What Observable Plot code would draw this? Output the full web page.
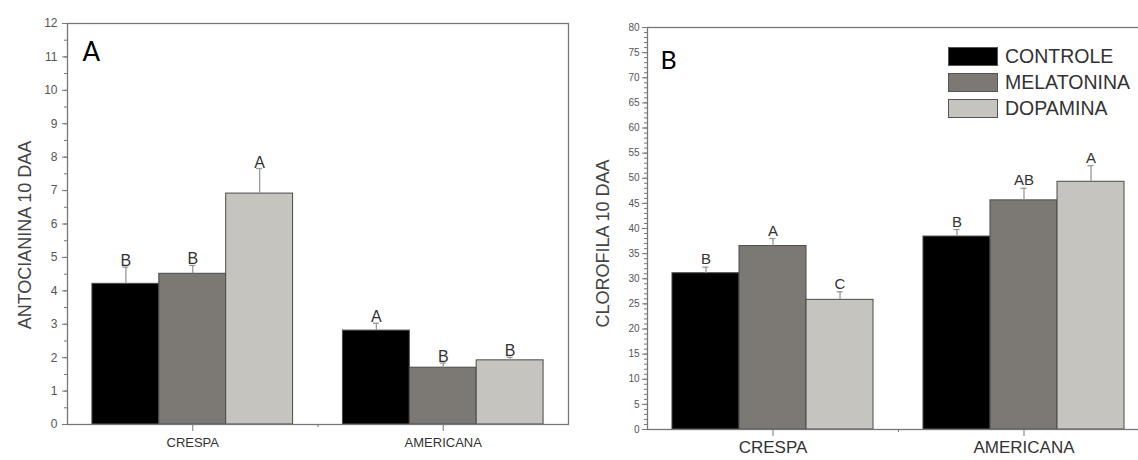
<!DOCTYPE html>
<html>
<head>
<meta charset="utf-8">
<script src="https://cdn.jsdelivr.net/npm/d3@7"></script>
<script src="https://cdn.jsdelivr.net/npm/@observablehq/plot@0.6"></script>
<style>
  body { margin: 0; background: #fff; }
  #wrap { position: relative; width: 1138px; height: 460px; overflow: hidden; font-family: "Liberation Sans", Arial, sans-serif; }
  #wrap svg { position: absolute; top: 0; }
  .legend { position: absolute; left: 948px; top: 43px; }
  .legend .row { display: flex; align-items: center; height: 26px; }
  .legend .sw { width: 48px; height: 17px; border: 1px solid #555; margin-right: 7px; }
  .legend .lb { font-size: 19.5px; color: #333; line-height: 19px; white-space: nowrap; }
</style>
</head>
<body>
<div id="wrap"></div>
<script>
// ---- data ----
const groups = ["CRESPA", "AMERICANA"];
const treatments = ["CONTROLE", "MELATONINA", "DOPAMINA"];
const treatmentColors = ["#000000", "#7c7975", "#c6c4be"];

// values listed group by group: CRESPA (controle, melatonina, dopamina), AMERICANA (...)
const antoValues  = [4.21, 4.51, 6.91, 2.81, 1.70, 1.92];
const antoErrors  = [0.50, 0.25, 0.75, 0.22, 0.14, 0.09];
const antoLetters = ["B", "B", "A", "A", "B", "B"];

const cloroValues  = [31.1, 36.5, 25.8, 38.4, 45.6, 49.3];
const cloroErrors  = [1.2, 1.5, 1.6, 1.4, 2.4, 3.2];
const cloroLetters = ["B", "A", "C", "B", "AB", "A"];

// ---- build rows ----
const barW = 0.267;
function rows(values, errors, letters) {
  const out = [];
  groups.forEach((g, gi) => treatments.forEach((t, ti) => {
    const k = gi * treatments.length + ti;
    const c = gi + 1 + (ti - 1) * barW;
    out.push({group: g, treatment: t, center: c, x1: c - barW / 2, x2: c + barW / 2,
      value: values[k], top: values[k] + errors[k], letter: letters[k], color: treatmentColors[ti]});
  }));
  return out;
}

function panel(o) {
  const data = rows(o.values, o.errors, o.letters);
  const cap = 0.012;
  return Plot.plot({
    width: o.width, height: 460,
    marginLeft: o.marginLeft, marginRight: o.marginRight,
    marginTop: o.marginTop, marginBottom: o.marginBottom,
    x: {domain: [0.5, 2.5]},
    y: {domain: [0, o.yMax]},
    style: {fontFamily: "Liberation Sans, Arial, sans-serif", color: "#666", background: "transparent", overflow: "hidden"},
    marks: [
      Plot.rectY(data, {x1: "x1", x2: "x2", y: "value", fill: "color", stroke: "#4a4a4a", strokeWidth: 1}),
      Plot.ruleX(data, {x: "center", y1: "value", y2: "top", stroke: "#999", strokeWidth: 1.3}),
      Plot.ruleY(data, {y: "top", x1: d => d.center - cap, x2: d => d.center + cap, stroke: "#999", strokeWidth: 1.3}),
      Plot.text(data, {x: "center", y: "top", text: "letter", lineAnchor: "bottom", dy: o.letterDy,
        fontSize: o.letterSize, fill: "#333"}),
      Plot.frame({stroke: "#777", strokeWidth: 1.3}),
      Plot.axisY({ticks: d3.range(0, o.yMax + 0.001, o.yStep), tickSize: 5, tickPadding: o.tickPad,
        fontSize: o.yTickSize, label: null, color: "#555", stroke: "#777"}),
      Plot.axisY({ticks: d3.range(0, o.yMax + 0.001, o.yMinor), tickSize: 3, tickFormat: () => "", label: null, stroke: "#777"}),
      Plot.axisX({ticks: [1, 2], tickFormat: d => groups[d - 1], tickSize: 7, tickPadding: o.xPad,
        fontSize: o.xFont, label: null, color: "#333", stroke: "#777"}),
      Plot.axisX({ticks: [1.5], tickSize: 3, tickFormat: () => "", label: null, stroke: "#777"}),
      Plot.text([o.yLabel], {frameAnchor: "left", textAnchor: "middle", dx: -o.yLabelOffset, dy: o.yLabelDy, rotate: -90,
        fontSize: 18, fill: "#444", text: d => d}),
      Plot.text([o.panelLetter], {frameAnchor: "top-left", dx: o.letterDx, dy: o.letterDyPanel, lineAnchor: "top",
        fontSize: o.panelSize, fontFamily: "Lato, sans-serif", fill: "#000", text: d => d})
    ]
  });
}

const wrap = document.getElementById("wrap");

const left = panel({
  values: antoValues, errors: antoErrors, letters: antoLetters,
  width: 575, marginLeft: 67, marginRight: 7, marginTop: 23, marginBottom: 36,
  yMax: 12, yStep: 1, yMinor: 0.5, yTickSize: 12, tickPad: 5,
  xFont: 13, xPad: 6,
  letterDy: -1, letterSize: 16,
  yLabel: "ANTOCIANINA 10 DAA", yLabelOffset: 42, yLabelDy: 11,
  panelLetter: "A", letterDx: 15, letterDyPanel: 19, panelSize: 26
});
left.style.left = "0px";
wrap.appendChild(left);

const right = panel({
  values: cloroValues, errors: cloroErrors, letters: cloroLetters,
  width: 563, marginLeft: 72, marginRight: -11, marginTop: 27, marginBottom: 31,
  yMax: 80, yStep: 5, yMinor: 1, yTickSize: 10, tickPad: 3,
  xFont: 17, xPad: 4,
  letterDy: -3, letterSize: 15,
  yLabel: "CLOROFILA 10 DAA", yLabelOffset: 44, yLabelDy: 15,
  panelLetter: "B", letterDx: 13, letterDyPanel: 24, panelSize: 25
});
right.style.left = "575px";
wrap.appendChild(right);

// legend
const legend = document.createElement("div");
legend.className = "legend";
treatments.forEach((t, i) => {
  const row = document.createElement("div");
  row.className = "row";
  const sw = document.createElement("div");
  sw.className = "sw";
  sw.style.background = treatmentColors[i];
  const lb = document.createElement("div");
  lb.className = "lb";
  lb.textContent = t;
  row.appendChild(sw); row.appendChild(lb);
  legend.appendChild(row);
});
wrap.appendChild(legend);
</script>
</body>
</html>
